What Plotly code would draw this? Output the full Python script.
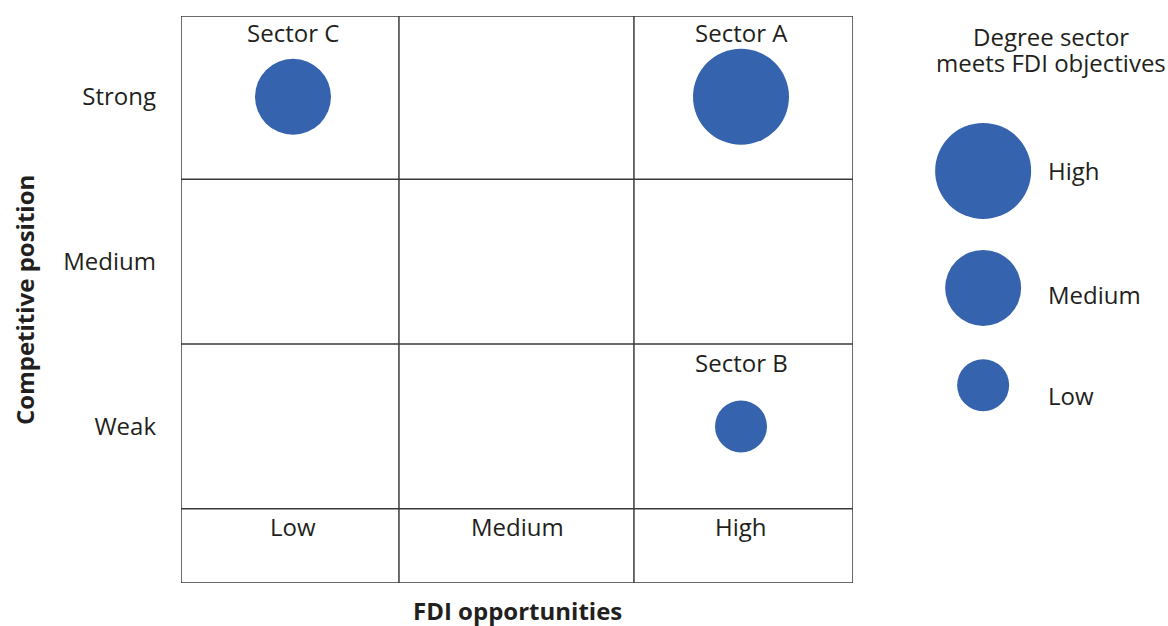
import plotly.graph_objects as go

# ---- data ----
fdi_levels = ["Low", "Medium", "High"]            # x categories (FDI opportunities)
position_levels = ["Weak", "Medium", "Strong"]    # y categories (Competitive position)
sectors = ["Sector A", "Sector B", "Sector C"]
sector_fdi = ["High", "High", "Low"]
sector_position = ["Strong", "Weak", "Strong"]
sector_degree = ["High", "Low", "Medium"]          # degree sector meets FDI objectives
legend_levels = ["High", "Medium", "Low"]
legend_title_lines = ["Degree sector", "meets FDI objectives"]

# ---- styles ----
BLUE = "#3563AE"
TXT = "#231F20"
LINE = "#3a3a3a"
FONT = "Open Sans"
FS = 24
size_map = {"High": 96, "Medium": 76, "Low": 52}

W, H = 1168, 626
L, T, B = 181, 16, 43
PW, PH = W - L, H - T - B
main_frac = 672 / PW


def px_x(p):  # pixel -> paper x
    return (p - L) / PW


def px_y(p):  # pixel -> paper y
    return (H - B - p) / PH


xi = {c: i for i, c in enumerate(fdi_levels)}
yi = {c: i for i, c in enumerate(position_levels)}

xs = [xi[v] for v in sector_fdi]
ys = [yi[v] for v in sector_position]

fig = go.Figure()
fig.add_trace(go.Scatter(
    x=xs, y=ys, mode="markers",
    marker=dict(size=[size_map[d] for d in sector_degree], color=BLUE, line=dict(width=0), opacity=1),
    hoverinfo="text", text=sectors, showlegend=False,
))

# legend bubbles on a separate axis pair (layout positions)
leg_y = {"High": 1.55, "Medium": 0.84, "Low": 0.25}
leg_label_y = {"High": 1.55, "Medium": 0.80, "Low": 0.19}
fig.add_trace(go.Scatter(
    x=[0.22] * len(legend_levels), y=[leg_y[l] for l in legend_levels], mode="markers",
    marker=dict(size=[size_map[l] for l in legend_levels], color=BLUE, line=dict(width=0), opacity=1),
    xaxis="x2", yaxis="y2", hoverinfo="skip", showlegend=False,
))

YR = [-0.95, 2.49]
XR = [-0.5, 2.5]

# grid shapes
vbounds = [-0.5, 0.473, 1.522, 2.5]
hbounds = [YR[0], -0.5, 0.5, 1.5, YR[1]]
shapes = []
for v in vbounds:
    shapes.append(dict(type="line", xref="x", yref="y", x0=v, x1=v, y0=YR[0], y1=YR[1],
                       line=dict(color=LINE, width=1.5)))
for h in hbounds:
    shapes.append(dict(type="line", xref="x", yref="y", x0=XR[0], x1=XR[1], y0=h, y1=h,
                       line=dict(color=LINE, width=1.5)))

font = dict(family=FONT, size=FS, color=TXT)
bfont = dict(family=FONT, size=FS, color=TXT)
annotations = []
# sector labels
for s, x, y in zip(sectors, xs, ys):
    annotations.append(dict(x=x, y=y + 0.39, xref="x", yref="y", text=s, showarrow=False, font=font))
# x category labels in bottom row
for c in fdi_levels:
    annotations.append(dict(x=xi[c], y=-0.61, xref="x", yref="y", text=c, showarrow=False, font=font))
# legend labels
for l in legend_levels:
    annotations.append(dict(x=0.485, y=leg_label_y[l], xref="x2", yref="y2", text=l, showarrow=False,
                            xanchor="left", font=font))
# legend title
for line_txt, py in zip(legend_title_lines, [36, 62]):
    annotations.append(dict(x=px_x(1051), y=px_y(py), xref="paper", yref="paper", text=line_txt,
                            showarrow=False, xanchor="center", yanchor="middle", font=font))
# axis titles
annotations.append(dict(x=px_x(517), y=px_y(610), xref="paper", yref="paper",
                        text="<b>FDI opportunities</b>", showarrow=False,
                        xanchor="center", yanchor="middle", font=bfont))
annotations.append(dict(x=px_x(24), y=px_y(300), xref="paper", yref="paper",
                        text="<b>Competitive position</b>", showarrow=False, textangle=-90,
                        xanchor="center", yanchor="middle", font=bfont))

fig.update_layout(
    width=W, height=H,
    margin=dict(l=L, r=0, t=T, b=B, autoexpand=False),
    paper_bgcolor="white", plot_bgcolor="white",
    font=dict(family=FONT, color=TXT),
    showlegend=False,
    xaxis=dict(domain=[0, main_frac], range=XR, showgrid=False, zeroline=False,
               showticklabels=False, ticks="", showline=False, automargin=False),
    yaxis=dict(range=YR, showgrid=False, zeroline=False, showline=False, automargin=False,
               tickvals=[0, 1, 2], ticktext=position_levels, ticks="",
               ticklabelstandoff=24, tickfont=font),
    xaxis2=dict(domain=[px_x(931), 1], range=[0, 1], visible=False, anchor="y2"),
    yaxis2=dict(domain=[0, 1], range=YR, visible=False, anchor="x2"),
    shapes=shapes, annotations=annotations,
)

fig.write_html(
    "out.html",
    config={"displayModeBar": False},
    post_script="document.body.style.margin='0';document.body.style.overflow='hidden';",
)
